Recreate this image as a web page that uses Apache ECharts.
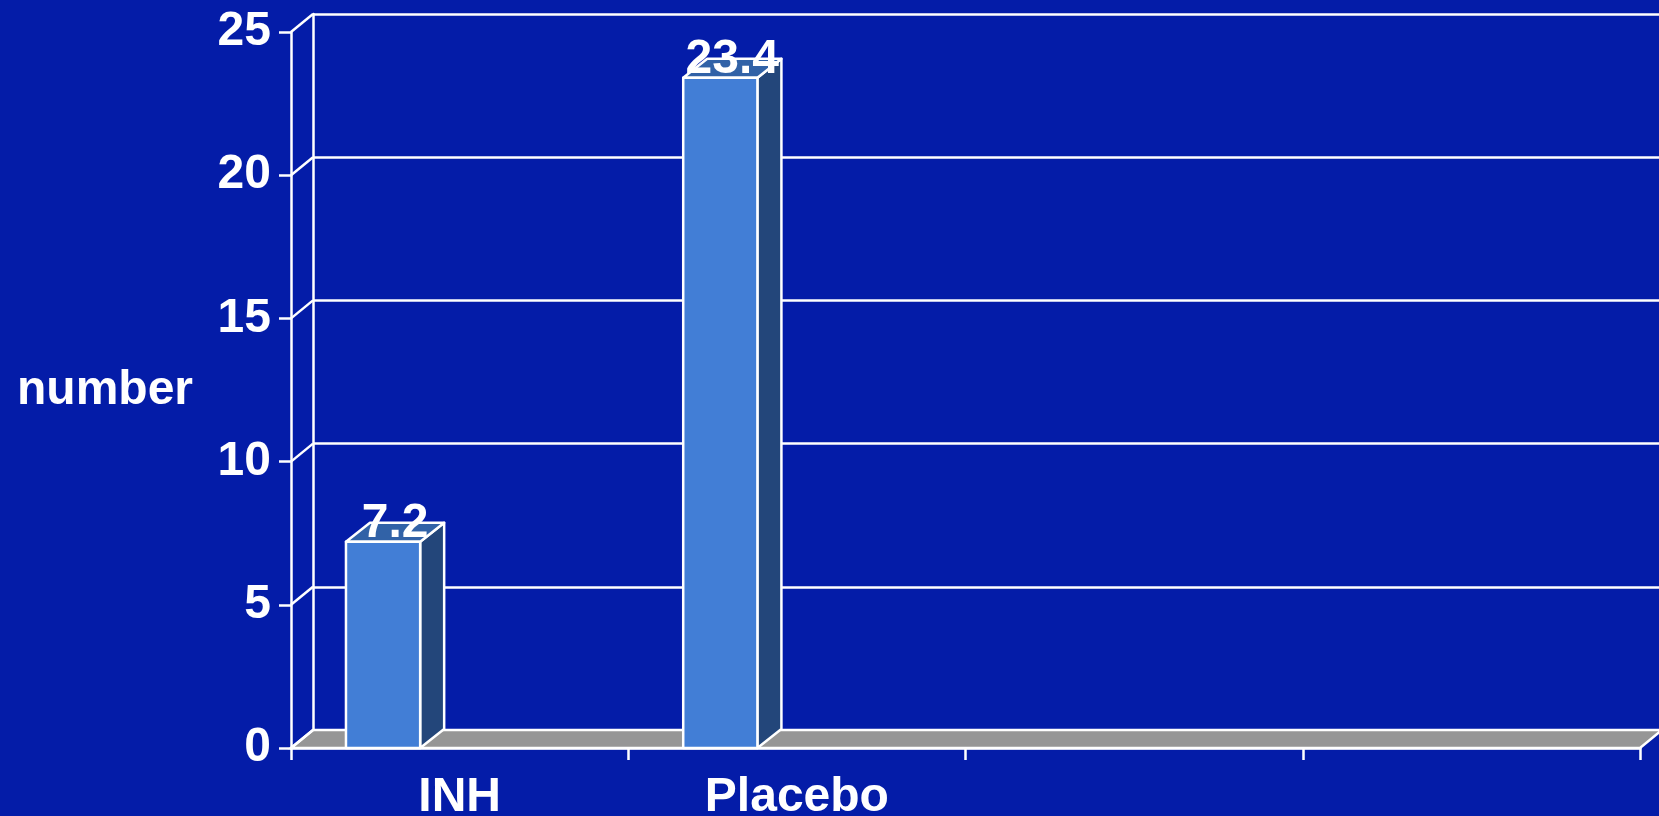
<!DOCTYPE html>
<html>
<head>
<meta charset="utf-8">
<script src="https://cdn.jsdelivr.net/npm/echarts@6/dist/echarts.min.js"></script>
<style>
  html, body { margin: 0; padding: 0; background: #041ca8; }
  #chart { width: 1659px; height: 816px; }
</style>
</head>
<body>
<div id="chart"></div>
<script>
// data
const categories = ['INH', 'Placebo', '', ''];
const values = [7.2, 23.4];
const yTicks = [0, 5, 10, 15, 20, 25];

// 3d depth offset (px)
const DX = 22;
const DY = -18;
const BAR_DX = 24;
const BAR_DY = -19;
const FONT = 'Liberation Sans, Arial, sans-serif';
const FS = 48;

const chart = echarts.init(document.getElementById('chart'));

function renderFloor(params, api) {
  const cs = params.coordSys;
  const yb = cs.y + cs.height;
  const xl = cs.x;
  const xr = cs.x + cs.width;
  const children = [
    {
      type: 'polygon',
      shape: { points: [[xl, yb], [xr, yb], [xr + DX, yb + DY], [xl + DX, yb + DY]] },
      style: { fill: '#969696', stroke: '#fff', lineWidth: 2.5 }
    }
  ];
  yTicks.forEach(function (t) {
    const y = api.coord([0, t])[1];
    children.push({
      type: 'line',
      shape: { x1: xl, y1: y, x2: xl + DX, y2: y + DY },
      style: { stroke: '#fff', lineWidth: 2.5 }
    });
  });
  return { type: 'group', children: children };
}

function renderBar(params, api) {
  const i = api.value(0);
  const v = api.value(1);
  const base = api.coord([i, 0]);
  const top = api.coord([i, v]);
  const band = api.size([1, 0])[0];
  const w = band * 0.22;
  const x0 = base[0] - band * 0.337;
  const x1 = x0 + w;
  const y0 = base[1];
  const y1 = top[1];
  const line = { stroke: '#fff', lineWidth: 2.5, lineJoin: 'round' };
  return {
    type: 'group',
    children: [
      {
        type: 'polygon',
        shape: { points: [[x1, y0], [x1 + BAR_DX, y0 + BAR_DY], [x1 + BAR_DX, y1 + BAR_DY], [x1, y1]] },
        style: Object.assign({ fill: '#23467a' }, line)
      },
      {
        type: 'polygon',
        shape: { points: [[x0, y1], [x1, y1], [x1 + BAR_DX, y1 + BAR_DY], [x0 + BAR_DX, y1 + BAR_DY]] },
        style: Object.assign({ fill: '#3162a7' }, line)
      },
      {
        type: 'rect',
        shape: { x: x0, y: y1, width: w, height: y0 - y1 },
        style: Object.assign({ fill: '#427ed6' }, line)
      },
      {
        type: 'text',
        x: (x0 + x1 + BAR_DX) / 2,
        y: y1 + BAR_DY / 2 + 15,
        style: {
          text: String(v),
          fill: '#fff',
          font: 'bold ' + FS + 'px ' + FONT,
          align: 'center',
          verticalAlign: 'bottom'
        }
      }
    ]
  };
}

const option = {
  backgroundColor: '#041ca8',
  animation: false,
  textStyle: { fontFamily: FONT },
  graphic: [
    {
      type: 'text',
      left: 17,
      top: 367,
      style: { text: 'number', fill: '#fff', font: 'bold ' + FS + 'px ' + FONT }
    }
  ],
  grid: [
    { left: 291, top: 32, width: 1349, height: 716, outerBoundsMode: 'none' },
    { left: 313, top: 14, width: 1360, height: 716, outerBoundsMode: 'none' }
  ],
  xAxis: [
    {
      type: 'category',
      gridIndex: 0,
      data: categories,
      axisLine: { show: true, lineStyle: { color: '#fff', width: 2.5 } },
      axisTick: { show: true, length: 12, lineStyle: { color: '#fff', width: 2.5 } },
      axisLabel: { color: '#fff', fontSize: FS, fontWeight: 'bold', margin: 26, interval: 0 },
      splitLine: { show: false }
    },
    {
      type: 'category',
      gridIndex: 1,
      data: categories,
      axisLine: { show: true, lineStyle: { color: '#fff', width: 2.5 } },
      axisTick: { show: false },
      axisLabel: { show: false },
      splitLine: { show: false }
    }
  ],
  yAxis: [
    {
      type: 'value',
      gridIndex: 0,
      min: 0,
      max: 25,
      interval: 5,
      axisLine: { show: true, lineStyle: { color: '#fff', width: 2.5 } },
      axisTick: { show: true, length: 12, lineStyle: { color: '#fff', width: 2.5 } },
      axisLabel: { color: '#fff', fontSize: FS, fontWeight: 'bold', margin: 20 },
      splitLine: { show: false }
    },
    {
      type: 'value',
      gridIndex: 1,
      min: 0,
      max: 25,
      interval: 5,
      axisLine: { show: true, lineStyle: { color: '#fff', width: 2.5 } },
      axisTick: { show: false },
      axisLabel: { show: false },
      splitLine: { show: true, lineStyle: { color: '#fff', width: 2.5 } }
    }
  ],
  series: [
    {
      type: 'custom',
      name: 'floor',
      xAxisIndex: 0,
      yAxisIndex: 0,
      z: 2,
      silent: true,
      renderItem: renderFloor,
      data: [[0, 0]]
    },
    {
      type: 'custom',
      name: 'bars',
      xAxisIndex: 0,
      yAxisIndex: 0,
      z: 3,
      renderItem: renderBar,
      data: values.map(function (v, i) { return [i, v]; })
    }
  ]
};

chart.setOption(option);
</script>
</body>
</html>
